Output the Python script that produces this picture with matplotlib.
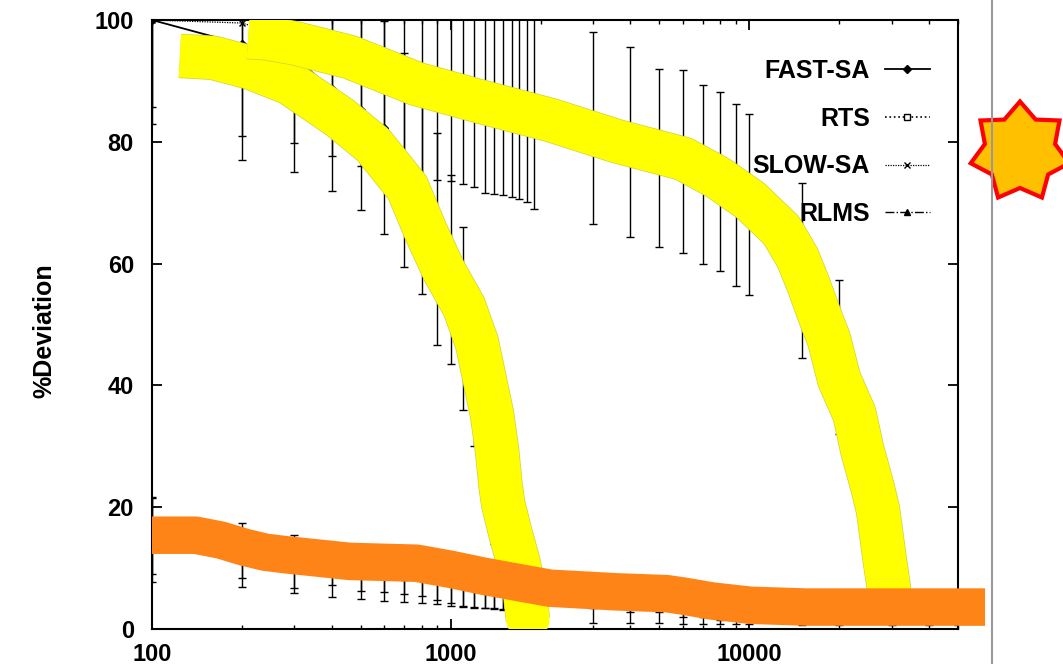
import numpy as np
import matplotlib
matplotlib.use('Agg')
import matplotlib.pyplot as plt
import matplotlib.patheffects as pe
from matplotlib.lines import Line2D
from matplotlib.patches import Polygon
from matplotlib.ticker import LogLocator, NullFormatter

plt.rcParams['font.family'] = ['Liberation Sans', 'DejaVu Sans']
plt.rcParams['font.weight'] = 'bold'

# evaluation points (x axis, log scale)
evals = [100, 200, 300, 400, 500, 600, 700, 800, 900, 1000, 1100, 1200, 1300,
         1400, 1500, 1600, 1700, 1800, 1900, 3000, 4000, 5000, 6000, 7000,
         8000, 9000, 10000, 15000, 20000, 30000, 40000, 50000]

# FAST-SA: only the first 19 points
fast_x = evals[:19]
fast_mean = [100, 96, 93.9, 88.6, 85.3, 82.3, 77, 72, 64, 59, 51, 43, 34, 25, 17, 10, 5, 2, 1]
fast_err = [17, 19, 18.9, 16.6, 16.5, 17.5, 17.6, 17, 17.4, 15.5, 15, 13, 12, 11, 9, 6, 3, 1, 0.5]

# SLOW-SA: asymmetric bars (upper ends above 100 are clipped by the frame)
slow_mean = [100, 99.5, 97, 95.5, 94, 93, 92, 91, 90.5, 90, 89, 88.5, 88, 87.5, 87, 86.5,
             86, 85.5, 85, 81, 79, 78, 76.5, 74.5, 73, 71, 69.5, 59, 45, 4, 2.5, 2]
slow_lo = [85.7, 81, 79.8, 77.7, 76, 75, 74.5, 73.7, 73.7, 73.5, 73, 72.6, 71.6, 71.5, 71.3,
           71, 70.6, 70.1, 69, 66.5, 64.3, 62.8, 61.7, 60, 58.8, 56.4, 54.8, 44.5, 32, 1.5, 0.8, 0.8]
slow_hi = [114, 118, 114, 113, 112, 111, 110, 109, 108, 107, 106, 105, 104, 104, 103, 103,
           102, 101, 101, 98, 95.6, 92, 91.8, 89.3, 88.2, 86.2, 84.6, 73.3, 57.3, 7, 4.5, 3.5]

# RTS
rts_mean = [15.4, 12.9, 11.05, 10.1, 9.4, 9.2, 9.05, 8.8, 8.25, 7.75, 7.25, 7.0, 6.8, 6.6, 6.4, 6.2,
            6.05, 5.85, 5.65, 4.25, 4.1, 4.0, 3.75, 3.45, 3.25, 3.1, 2.95, 2.75, 2.75, 2.7, 2.7, 2.7]
rts_err = [6.3, 4.5, 4.35, 2.9, 3.1, 3.2, 3.25, 3.3, 3.45, 3.45, 3.45, 3.4, 3.3, 3.2, 3.1, 3.0,
           2.95, 2.85, 2.75, 3.25, 3.1, 3.0, 2.85, 2.55, 2.45, 2.3, 2.15, 2.05, 2.05, 2.1, 2.1, 2.1]

# RLMS
rlms_mean = [14.6, 11.5, 10.35, 9.4, 8.95, 8.7, 8.5, 8.3, 8.05, 7.65, 7.3, 7.05, 6.85, 6.65, 6.45, 6.25,
             6.05, 5.85, 5.65, 5.6, 5.15, 5.05, 4.45, 4.15, 3.75, 3.6, 3.45, 3.15, 3.15, 3.05, 3.05, 3.05]
rlms_err = [6.9, 4.6, 4.45, 4.1, 4.05, 4.1, 4.1, 4.1, 3.95, 3.85, 3.7, 3.55, 3.45, 3.35, 3.25, 3.15,
            3.05, 2.95, 2.85, 2.2, 2.35, 2.25, 2.45, 2.15, 2.25, 2.1, 1.95, 1.95, 1.95, 2.05, 2.05, 2.05]

# hand-drawn highlighter strokes (data coordinates)
hl_fast_x = [124, 160, 213, 290, 425, 550, 716, 830, 950, 1110, 1225, 1300, 1375, 1430,
             1470, 1500, 1580, 1690, 1780, 1815]
hl_fast_y = [94.1, 93.8, 92.2, 89.6, 84.0, 79.5, 72.5, 65.0, 58.8, 52.9, 47.0, 41.0, 35.3, 29.4,
             23.5, 20.5, 16.0, 10.8, 5.3, 1.5]
hl_slow_x = [210, 242, 300, 404, 460, 770, 1280, 2150, 3600, 6020, 7800, 10070, 12800, 14500,
             15800, 17200, 18500, 20000, 22500, 23900, 25800, 27000, 28300, 29300, 30000]
hl_slow_y = [97.2, 97.0, 96.2, 94.6, 93.9, 89.5, 86.5, 83.6, 80.1, 77.2, 74.2, 70.4, 65.5, 61.0,
             56.5, 51.5, 47.5, 41.0, 35.3, 29.4, 23.5, 19.5, 12.0, 6.9, 2.0]
hl_low_x = [100, 140, 170, 205, 240, 280, 460, 770, 1000, 1280, 1700, 2150, 3600, 5300, 6020,
            7500, 10070, 15500, 61600]
hl_low_y = [15.4, 15.4, 14.6, 13.4, 12.6, 12.2, 11.1, 10.8, 9.8, 8.7, 7.6, 6.7, 6.1, 5.8, 5.4,
            4.6, 3.9, 3.6, 3.6]

W, H = 1063, 664
fig = plt.figure(figsize=(W / 100, H / 100), dpi=100)
ax = fig.add_axes([152 / W, 35 / H, 806 / W, 609 / H])

ebk = dict(fmt='none', ecolor='black', elinewidth=1.0, capsize=3, capthick=1.0, zorder=2)
ax.errorbar(fast_x, fast_mean, yerr=fast_err, **ebk)
slow_yerr = [np.array(slow_mean) - np.array(slow_lo), np.array(slow_hi) - np.array(slow_mean)]
ax.errorbar(evals, slow_mean, yerr=slow_yerr, **ebk)
ax.errorbar(evals, rts_mean, yerr=rts_err, **ebk)
ax.errorbar(evals, rlms_mean, yerr=rlms_err, **ebk)

ax.plot(fast_x, fast_mean, '-', color='black', lw=1.3, marker='D', ms=4, label='FAST-SA', zorder=2)
ax.plot(evals, rts_mean, ':', color='black', lw=1.2, marker='s', ms=4, mfc='white', label='RTS', zorder=2)
ax.plot(evals, slow_mean, linestyle=(0, (1, 1)), color='black', lw=0.9, marker='x', ms=5, label='SLOW-SA', zorder=2)
ax.plot(evals, rlms_mean, '-.', color='black', lw=1.0, marker='^', ms=4.5, label='RLMS', zorder=2)

# highlighter
edge = [pe.Stroke(linewidth=32, foreground='#CFCF40'), pe.Normal()]
ax.plot(hl_fast_x, hl_fast_y, color='#FFFF00', lw=31, solid_capstyle='butt', solid_joinstyle='round',
        zorder=3, path_effects=edge)
ax.plot(hl_fast_x[-2:], hl_fast_y[-2:], color='#FFFF00', lw=31, solid_capstyle='round', zorder=3)
ax.plot(hl_slow_x, hl_slow_y, color='#FFFF00', lw=31, solid_capstyle='butt', solid_joinstyle='round',
        zorder=3, path_effects=edge)
ax.plot(hl_low_x, hl_low_y, color='#FF8418', lw=27, solid_capstyle='butt', solid_joinstyle='round',
        zorder=4, clip_on=False)

ax.set_xscale('log')
ax.set_xlim(100, 50000)
ax.set_ylim(0, 100)
ax.set_xticks([100, 1000, 10000], labels=['100', '1000', '10000'])
ax.xaxis.set_minor_locator(LogLocator(base=10, subs=np.arange(2, 10)))
ax.xaxis.set_minor_formatter(NullFormatter())
ax.set_yticks([0, 20, 40, 60, 80, 100])
ax.tick_params(which='major', direction='in', length=7, width=1.3, top=True, right=True, labelsize=17)
ax.tick_params(which='minor', direction='in', length=3, width=1.0, top=True, right=True)
ax.tick_params(axis='y', pad=13)
ax.tick_params(axis='x', pad=10)
for s in ax.spines.values():
    s.set_linewidth(1.5)

ax.set_ylabel('%Deviation', fontsize=18, fontweight='bold')
ax.yaxis.set_label_coords(-0.119, 0.49)

ax.legend(loc='upper right', bbox_to_anchor=(0.965, 0.936), frameon=False, markerfirst=False,
          fontsize=18, handlelength=1.8, handletextpad=0.6, labelspacing=0.95, borderpad=0,
          borderaxespad=0)

# grey separator line and star sticker
fig.add_artist(Line2D([992 / W, 992 / W], [0, 1], transform=fig.transFigure, color='#999999', lw=1.5))
cx, cy, R, r = 1020, H - 152, 50.5, 36
ang = np.deg2rad(90 + np.arange(14) * 180 / 7)
rad = np.where(np.arange(14) % 2 == 0, R, r)
pts = np.column_stack([(cx + rad * np.cos(ang)) / W, (cy + rad * np.sin(ang)) / H])
fig.add_artist(Polygon(pts, closed=True, transform=fig.transFigure, facecolor='#FFC000',
                       edgecolor='#FF0000', lw=3, joinstyle='miter'))

fig.savefig('out.png', dpi=100)
